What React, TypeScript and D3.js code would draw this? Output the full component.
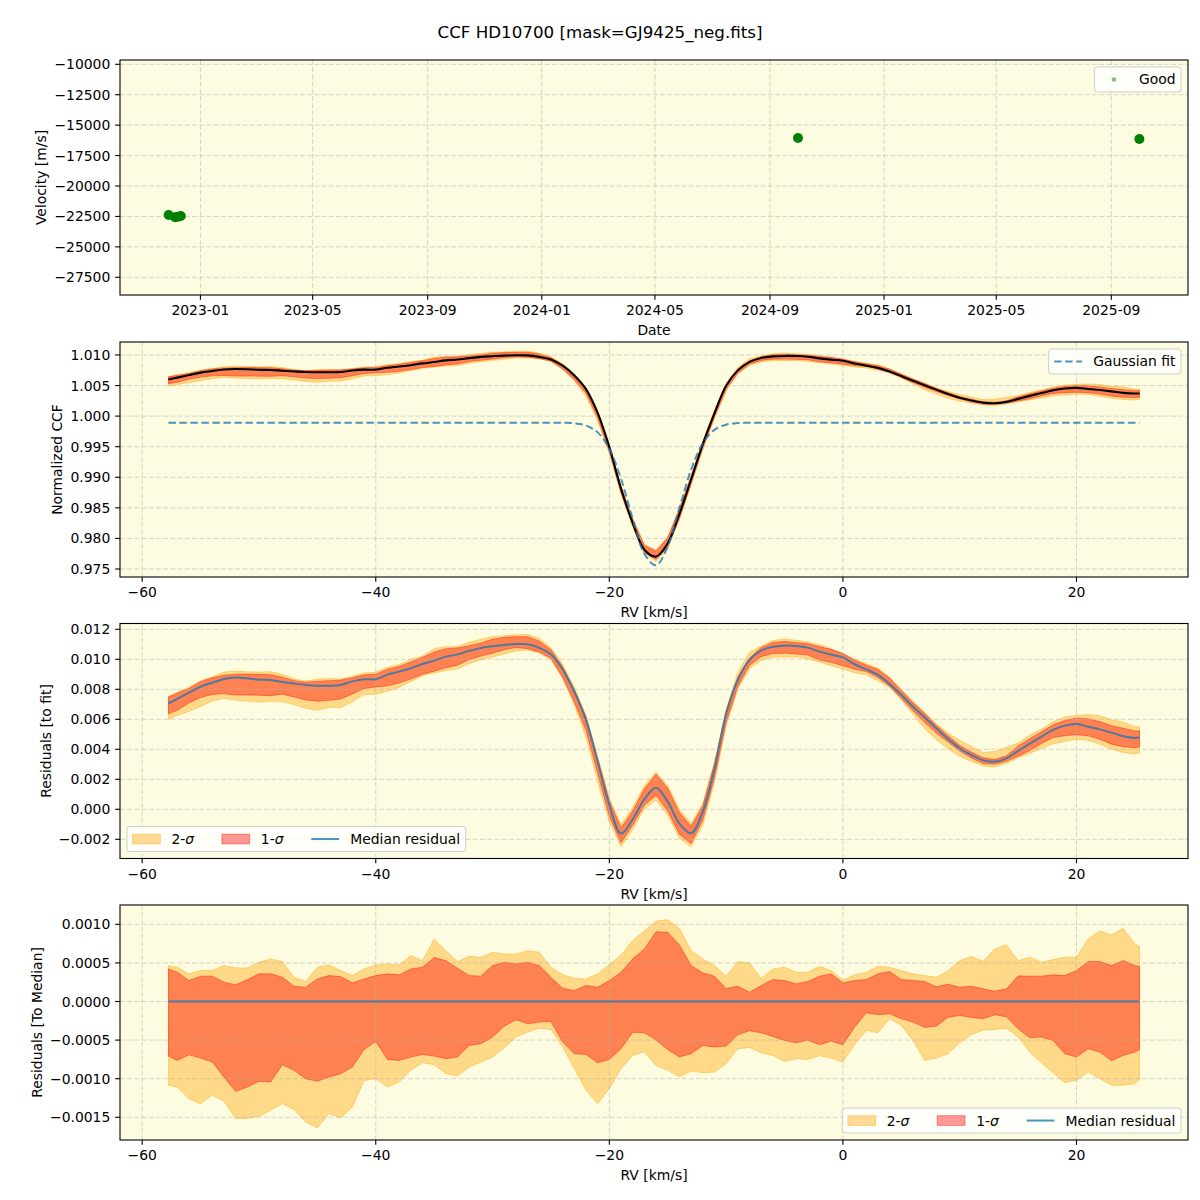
import * as d3 from 'd3';

const FONT = '"DejaVu Sans", "Liberation Sans", sans-serif';
const FS = 13.9; // 10 pt at 100 dpi
const TICK = 4.86;

const W = 1200;
const H = 1200;
const LEFT = 120;
const RIGHT = 1188;
const PANEL_H = 235;
const TOPS = [60, 342, 623.5, 905];

const BG = '#fdfce1';
const GRID = '#b0b0b0';
const C0 = '#1f77b4';
const BAND2 = '#ffa500';
const BAND1 = '#ff0000';

// Radial velocity time series ("Good" points)
const obsDates = ['2022-11-28', '2022-12-05', '2022-12-08', '2022-12-11', '2024-10-01', '2025-10-01'];
const obsVelocity = [-22380, -22560, -22520, -22470, -16055, -16138];
const dateTicks = [
  '2023-01-01', '2023-05-01', '2023-09-01', '2024-01-01', '2024-05-01',
  '2024-09-01', '2025-01-01', '2025-05-01', '2025-09-01',
];
const velocityTicks = [-27500, -25000, -22500, -20000, -17500, -15000, -12500, -10000];

// CCF velocity grid [km/s]
const rvGrid = [
  -57.75, -57, -56, -55, -54, -53, -52, -51, -50, -49,
  -48, -47, -46, -45, -44, -43, -42, -41, -40, -39,
  -38, -37, -36, -35, -34, -33, -32, -31, -30, -29,
  -28, -27, -26, -25, -24, -23, -22, -21, -20, -19,
  -18, -17, -16, -15, -14, -13, -12, -11, -10, -9,
  -8, -7, -6, -5, -4, -3, -2, -1, 0, 1,
  2, 3, 4, 5, 6, 7, 8, 9, 10, 11,
  12, 13, 14, 15, 16, 17, 18, 19, 20, 21,
  22, 23, 24, 25, 25.4,
];

// Gaussian fit evaluated on the grid
const gaussFit = [
  0.99893, 0.99893, 0.99893, 0.99893, 0.99893, 0.99893, 0.99893, 0.99893, 0.99893, 0.99893,
  0.99893, 0.99893, 0.99893, 0.99893, 0.99893, 0.99893, 0.99893, 0.99893, 0.99893, 0.99893,
  0.99893, 0.99893, 0.99893, 0.99893, 0.99893, 0.99893, 0.99893, 0.99893, 0.99893, 0.99893,
  0.99893, 0.99893, 0.99893, 0.99893, 0.99891, 0.99882, 0.99846, 0.99734, 0.99465, 0.98975,
  0.98321, 0.97748, 0.9756, 0.97871, 0.98496, 0.99123, 0.99555, 0.99775, 0.9986, 0.99886,
  0.99892, 0.99893, 0.99893, 0.99893, 0.99893, 0.99893, 0.99893, 0.99893, 0.99893, 0.99893,
  0.99893, 0.99893, 0.99893, 0.99893, 0.99893, 0.99893, 0.99893, 0.99893, 0.99893, 0.99893,
  0.99893, 0.99893, 0.99893, 0.99893, 0.99893, 0.99893, 0.99893, 0.99893, 0.99893, 0.99893,
  0.99893, 0.99893, 0.99893, 0.99893, 0.99893,
];

// Median residual (CCF - fit)
const residMedian = [
  0.00707, 0.00736, 0.00778, 0.00818, 0.00844, 0.00869, 0.00878, 0.00873, 0.00864, 0.00862,
  0.00849, 0.00838, 0.00829, 0.00824, 0.00824, 0.00829, 0.00853, 0.00867, 0.00867, 0.00898,
  0.00918, 0.0094, 0.00969, 0.00991, 0.01018, 0.01033, 0.01056, 0.01076, 0.01087, 0.01096,
  0.01102, 0.011, 0.01076, 0.01033, 0.00933, 0.00784, 0.00596, 0.00318, 0.00029, -0.00162,
  -0.00067, 0.00067, 0.00144, 0.00051, -0.00095, -0.0016, -0.00016, 0.00269, 0.00636, 0.00862,
  0.00996, 0.01058, 0.01084, 0.01091, 0.01089, 0.01078, 0.01051, 0.01031, 0.01013, 0.00967,
  0.00933, 0.00896, 0.00836, 0.00762, 0.00684, 0.00613, 0.0054, 0.00469, 0.00407, 0.00362,
  0.00327, 0.00318, 0.0034, 0.00389, 0.00438, 0.00484, 0.00529, 0.00558, 0.00569, 0.00551,
  0.00533, 0.00511, 0.00487, 0.00476, 0.00478,
];

// Percentile offsets from the median, in units of 1e-4
const OFFSET_UNIT = 1e-4;
const sigma2Upper = [
  4.65, 4.44, 3.58, 4.0, 4.0, 4.65, 4.35, 4.35, 5.09, 5.52,
  5.17, 3.15, 2.59, 4.44, 4.74, 4.0, 3.36, 4.22, 4.74, 4.87,
  4.74, 5.95, 5.3, 8.1, 6.59, 5.17, 5.86, 5.73, 6.38, 6.16,
  6.16, 6.59, 6.38, 4.44, 3.45, 3.02, 2.93, 3.58, 4.78, 6.03,
  7.89, 9.18, 10.43, 10.6, 9.48, 6.59, 5.52, 4.65, 3.28, 5.17,
  5.0, 3.02, 4.22, 4.44, 3.79, 3.79, 4.57, 4.0, 2.76, 3.45,
  3.79, 4.57, 4.44, 4.0, 3.58, 3.36, 3.15, 3.97, 5.3, 5.82,
  5.22, 6.81, 7.33, 5.3, 5.73, 5.09, 5.43, 5.73, 5.73, 8.1,
  9.14, 8.62, 9.48, 7.46, 7.15,
];
const sigma1Upper = [
  4.22, 3.79, 2.72, 3.28, 3.28, 2.5, 2.16, 2.84, 3.58, 3.58,
  3.15, 1.98, 1.85, 2.93, 3.36, 3.23, 2.41, 2.93, 3.36, 3.58,
  3.45, 4.22, 4.44, 5.69, 5.3, 4.31, 3.36, 3.28, 4.65, 5.09,
  4.87, 5.09, 4.65, 3.15, 1.72, 1.42, 2.07, 1.85, 2.72, 3.79,
  5.52, 6.81, 9.05, 8.96, 7.33, 4.65, 3.71, 3.28, 1.68, 1.98,
  1.21, 2.07, 2.84, 2.72, 2.28, 2.59, 3.28, 3.58, 2.41, 2.72,
  2.84, 3.58, 3.88, 2.84, 2.72, 2.59, 1.9, 2.24, 1.85, 1.98,
  1.64, 1.34, 1.64, 3.32, 3.28, 3.28, 3.45, 3.36, 4.0, 5.17,
  5.17, 4.65, 5.3, 4.65, 4.53,
];
const sigma1Lower = [
  -7.07, -7.63, -6.9, -7.33, -7.84, -9.78, -11.64, -11.08, -10.34, -10.43,
  -8.19, -8.92, -10.0, -10.34, -9.78, -9.35, -8.49, -6.21, -5.17, -7.5,
  -7.63, -7.2, -6.85, -7.07, -7.41, -7.2, -5.69, -5.47, -4.61, -3.19,
  -2.37, -2.89, -2.67, -2.59, -5.26, -6.77, -6.85, -7.93, -7.5, -6.12,
  -3.97, -4.05, -5.0, -6.21, -7.2, -6.77, -5.69, -5.9, -5.78, -4.31,
  -3.79, -4.05, -4.53, -5.04, -5.34, -5.0, -5.6, -5.13, -5.6, -3.32,
  -1.47, -1.72, -1.59, -2.24, -2.67, -3.36, -3.19, -2.03, -1.81, -2.07,
  -2.24, -1.72, -1.98, -3.53, -4.7, -4.61, -5.04, -6.77, -7.2, -6.12,
  -6.55, -7.67, -6.98, -6.55, -6.21,
];
const sigma2Lower = [
  -10.86, -11.08, -12.59, -13.23, -12.15, -12.93, -15.17, -15.17, -14.87, -14.09,
  -13.23, -13.98, -15.6, -16.38, -14.52, -15.09, -13.66, -10.24, -10.0, -11.08,
  -10.43, -8.92, -7.93, -8.19, -9.35, -9.65, -8.49, -7.84, -7.2, -6.03,
  -4.61, -3.97, -3.45, -3.62, -5.9, -8.71, -11.5, -13.23, -11.29, -8.71,
  -6.98, -6.55, -8.28, -8.92, -9.78, -9.0, -9.22, -9.14, -8.06, -6.12,
  -5.95, -6.64, -6.98, -7.76, -7.41, -7.5, -7.03, -7.33, -7.84, -5.6,
  -3.75, -4.05, -2.24, -3.1, -5.04, -7.63, -7.33, -6.77, -5.34, -4.31,
  -3.71, -3.62, -3.45, -4.61, -6.55, -7.93, -9.22, -10.52, -10.21, -9.14,
  -10.0, -10.86, -10.86, -10.65, -10.09,
];

const rvTicks = [-60, -40, -20, 0, 20];
const ccfTicks = [0.975, 0.98, 0.985, 0.99, 0.995, 1.0, 1.005, 1.01];
const residTicks = [-0.002, 0, 0.002, 0.004, 0.006, 0.008, 0.01, 0.012];
const medianTicks = [-0.0015, -0.001, -0.0005, 0, 0.0005, 0.001];

let measureCtx: CanvasRenderingContext2D | null = null;
function textWidth(s: string, size = FS) {
  if (!measureCtx) measureCtx = document.createElement('canvas').getContext('2d');
  if (!measureCtx) return s.length * size * 0.6;
  measureCtx.font = `${size}px "DejaVu Sans"`;
  return measureCtx.measureText(s).width;
}

function Label({ text }: { text: string }) {
  // "σ" is set as math italic
  const parts = text.split('σ');
  if (parts.length === 1) return <>{text}</>;
  return (
    <>
      {parts[0]}
      <tspan fontStyle="italic">σ</tspan>
      {parts[1]}
    </>
  );
}

type LegendItem = {
  kind: 'dot' | 'line' | 'patch';
  label: string;
  color: string;
  opacity: number;
  dash?: string;
};

function Legend({ top, corner, items }: { top: number; corner: string; items: LegendItem[] }) {
  const pad = 0.4 * FS;
  const handle = 2 * FS;
  const gap = 0.8 * FS;
  const colGap = 2 * FS;
  const inset = 0.5 * FS;
  const h = 25;
  const widths = items.map((d) => textWidth(d.label));
  const w = 2 * pad + d3.sum(widths) + items.length * (handle + gap) + colGap * (items.length - 1);
  const bottom = top + PANEL_H;
  const bx = corner.endsWith('right') ? RIGHT - inset - w : LEFT + inset;
  const by = corner.startsWith('upper') ? top + inset : bottom - inset - h;
  const cy = by + h / 2;
  let cursor = bx + pad;
  const cells = items.map((d, i) => {
    const hx = cursor;
    cursor += handle + gap + widths[i] + colGap;
    return { ...d, hx };
  });
  return (
    <g>
      <rect x={bx} y={by} width={w} height={h} rx={3} fill="white" fillOpacity={0.8} stroke="#cccccc" strokeWidth={1} />
      {cells.map((d) => (
        <g key={d.label}>
          {d.kind === 'dot' && <circle cx={d.hx + handle / 2} cy={cy} r={2.2} fill={d.color} fillOpacity={d.opacity} />}
          {d.kind === 'line' && (
            <line x1={d.hx} x2={d.hx + handle} y1={cy} y2={cy} stroke={d.color} strokeOpacity={d.opacity}
              strokeWidth={2} strokeDasharray={d.dash} />
          )}
          {d.kind === 'patch' && (
            <rect x={d.hx} y={cy - 0.35 * FS} width={handle} height={0.7 * FS} fill={d.color} fillOpacity={d.opacity}
              stroke={d.color} strokeOpacity={d.opacity} strokeWidth={1} />
          )}
          <text x={d.hx + handle + gap} y={cy} dominantBaseline="central" fontSize={FS} fill="black">
            <Label text={d.label} />
          </text>
        </g>
      ))}
    </g>
  );
}

type AxesProps = {
  top: number;
  xPos: number[];
  xLabels: string[];
  yPos: number[];
  yLabels: string[];
  xTitle: string;
  yTitle: string;
  yTitleX: number;
  under?: React.ReactNode;
  over?: React.ReactNode;
  legend?: React.ReactNode;
};

function Axes({ top, xPos, xLabels, yPos, yLabels, xTitle, yTitle, yTitleX, under, over, legend }: AxesProps) {
  const bottom = top + PANEL_H;
  const mid = top + PANEL_H / 2;
  return (
    <g>
      <rect x={LEFT} y={top} width={RIGHT - LEFT} height={PANEL_H} fill={BG} />
      {under}
      <g stroke={GRID} strokeOpacity={0.6} strokeWidth={0.9} strokeDasharray="5,2.2">
        {xPos.map((px, i) => <line key={`gx${i}`} x1={px} x2={px} y1={top} y2={bottom} />)}
        {yPos.map((py, i) => <line key={`gy${i}`} x1={LEFT} x2={RIGHT} y1={py} y2={py} />)}
      </g>
      {over}
      <rect x={LEFT} y={top} width={RIGHT - LEFT} height={PANEL_H} fill="none" stroke="black" strokeWidth={1.1} />
      <g stroke="black" strokeWidth={1.1}>
        {xPos.map((px, i) => <line key={`tx${i}`} x1={px} x2={px} y1={bottom} y2={bottom + TICK} />)}
        {yPos.map((py, i) => <line key={`ty${i}`} x1={LEFT - TICK} x2={LEFT} y1={py} y2={py} />)}
      </g>
      <g fontSize={FS} fill="black">
        {xPos.map((px, i) => (
          <text key={`lx${i}`} x={px} y={bottom + 20.2} textAnchor="middle">{xLabels[i]}</text>
        ))}
        {yPos.map((py, i) => (
          <text key={`ly${i}`} x={LEFT - 2 * TICK} y={py} textAnchor="end" dominantBaseline="central">{yLabels[i]}</text>
        ))}
        <text x={(LEFT + RIGHT) / 2} y={bottom + 40} textAnchor="middle">{xTitle}</text>
        <text transform={`translate(${yTitleX},${mid}) rotate(-90)`} textAnchor="middle" dominantBaseline="central">
          {yTitle}
        </text>
      </g>
      {legend}
    </g>
  );
}

export default function App() {
  const parse = d3.utcParse('%Y-%m-%d');
  const xDate = d3.scaleUtc()
    .domain([parse('2022-10-07')!, parse('2025-11-22')!])
    .range([LEFT, RIGHT]);
  const yVel = d3.scaleLinear().domain([-28954, -9647]).range([TOPS[0] + PANEL_H, TOPS[0]]);

  const xRv = d3.scaleLinear().domain([-61.9, 29.55]).range([LEFT, RIGHT]);
  const yCcf = d3.scaleLinear().domain([0.97369, 1.01212]).range([TOPS[1] + PANEL_H, TOPS[1]]);
  const yRes = d3.scaleLinear().domain([-0.00328, 0.012387]).range([TOPS[2] + PANEL_H, TOPS[2]]);
  const yMed = d3.scaleLinear().domain([-0.001794, 0.00125]).range([TOPS[3] + PANEL_H, TOPS[3]]);

  const fmtInt = d3.format('d');
  const fmt3 = d3.format('.3f');
  const fmt4 = d3.format('.4f');
  const fmtDate = d3.utcFormat('%Y-%m');

  const idx = rvGrid.map((_, i) => i);
  const ccf = idx.map((i) => gaussFit[i] + residMedian[i]);
  const off = (arr: number[], i: number) => arr[i] * OFFSET_UNIT;

  // Percentile band as an area around a baseline curve
  const band = (base: number[] | null, y: d3.ScaleLinear<number, number>, lo: number[], hi: number[]) =>
    d3.area<number>()
      .x((i) => xRv(rvGrid[i]))
      .y0((i) => y((base ? base[i] : 0) + off(lo, i)))
      .y1((i) => y((base ? base[i] : 0) + off(hi, i)))(idx) ?? '';

  const smooth = (vals: number[], y: d3.ScaleLinear<number, number>) =>
    d3.line<number>()
      .x((i) => xRv(rvGrid[i]))
      .y((i) => y(vals[i]))
      .curve(d3.curveCatmullRom)(idx) ?? '';

  const bandPaths = (base: number[] | null, y: d3.ScaleLinear<number, number>) => (
    <g>
      <path d={band(base, y, sigma2Lower, sigma2Upper)} fill={BAND2} fillOpacity={0.4}
        stroke={BAND2} strokeOpacity={0.4} strokeWidth={1} />
      <path d={band(base, y, sigma1Lower, sigma1Upper)} fill={BAND1} fillOpacity={0.4}
        stroke={BAND1} strokeOpacity={0.4} strokeWidth={1} />
    </g>
  );

  const sigmaLegend: LegendItem[] = [
    { kind: 'patch', label: '2-σ', color: BAND2, opacity: 0.4 },
    { kind: 'patch', label: '1-σ', color: BAND1, opacity: 0.4 },
    { kind: 'line', label: 'Median residual', color: C0, opacity: 0.8 },
  ];

  const rvX = rvTicks.map((t) => xRv(t));
  const rvLabels = rvTicks.map((t) => fmtInt(t));

  return (
    <div style={{ position: 'absolute', left: 0, top: 0 }}>
      <svg width={W} height={H} viewBox={`0 0 ${W} ${H}`} fontFamily={FONT} style={{ display: 'block', background: 'white' }}>
        <text x={W / 2} y={38} textAnchor="middle" fontSize={16.7} fill="black">
          CCF HD10700 [mask=GJ9425_neg.fits]
        </text>

        {/* RV time series */}
        <Axes
          top={TOPS[0]}
          xPos={dateTicks.map((d) => xDate(parse(d)!))}
          xLabels={dateTicks.map((d) => fmtDate(parse(d)!))}
          yPos={velocityTicks.map((v) => yVel(v))}
          yLabels={velocityTicks.map((v) => fmtInt(v))}
          xTitle="Date"
          yTitle="Velocity [m/s]"
          yTitleX={41}
          over={
            <g fill="green">
              {obsDates.map((d, i) => (
                <circle key={d} cx={xDate(parse(d)!)} cy={yVel(obsVelocity[i])} r={5} />
              ))}
            </g>
          }
          legend={<Legend top={TOPS[0]} corner="upper right" items={[{ kind: 'dot', label: 'Good', color: 'green', opacity: 0.5 }]} />}
        />

        {/* Normalised CCF with percentile bands and Gaussian fit */}
        <Axes
          top={TOPS[1]}
          xPos={rvX}
          xLabels={rvLabels}
          yPos={ccfTicks.map((v) => yCcf(v))}
          yLabels={ccfTicks.map((v) => fmt3(v))}
          xTitle="RV [km/s]"
          yTitle="Normalized CCF"
          yTitleX={57}
          under={bandPaths(ccf, yCcf)}
          over={
            <g fill="none">
              <path d={smooth(ccf, yCcf)} stroke="black" strokeWidth={2.1} />
              <path d={smooth(gaussFit, yCcf)} stroke={C0} strokeOpacity={0.8} strokeWidth={2} strokeDasharray="7.4,3.6" />
            </g>
          }
          legend={
            <Legend top={TOPS[1]} corner="upper right"
              items={[{ kind: 'line', label: 'Gaussian fit', color: C0, opacity: 0.8, dash: '7.4,3.6' }]} />
          }
        />

        {/* Residuals to the fit */}
        <Axes
          top={TOPS[2]}
          xPos={rvX}
          xLabels={rvLabels}
          yPos={residTicks.map((v) => yRes(v))}
          yLabels={residTicks.map((v) => fmt3(v))}
          xTitle="RV [km/s]"
          yTitle="Residuals [to fit]"
          yTitleX={46}
          under={bandPaths(residMedian, yRes)}
          over={<path d={smooth(residMedian, yRes)} fill="none" stroke={C0} strokeOpacity={0.8} strokeWidth={2} />}
          legend={<Legend top={TOPS[2]} corner="lower left" items={sigmaLegend} />}
        />

        {/* Residuals to the median */}
        <Axes
          top={TOPS[3]}
          xPos={rvX}
          xLabels={rvLabels}
          yPos={medianTicks.map((v) => yMed(v))}
          yLabels={medianTicks.map((v) => fmt4(v))}
          xTitle="RV [km/s]"
          yTitle="Residuals [To Median]"
          yTitleX={37}
          under={bandPaths(null, yMed)}
          over={
            <line x1={xRv(rvGrid[0])} x2={xRv(rvGrid[rvGrid.length - 1])} y1={yMed(0)} y2={yMed(0)}
              stroke={C0} strokeOpacity={0.8} strokeWidth={2} />
          }
          legend={<Legend top={TOPS[3]} corner="lower right" items={sigmaLegend} />}
        />
      </svg>
    </div>
  );
}
